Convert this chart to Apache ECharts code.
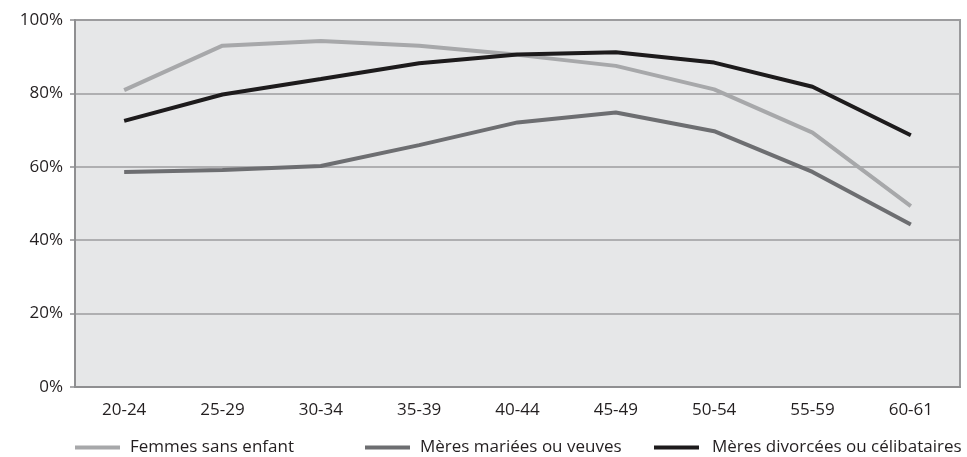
<!DOCTYPE html>
<html>
<head>
<meta charset="utf-8">
<script src="https://cdn.jsdelivr.net/npm/echarts@6/dist/echarts.min.js"></script>
<style>
  html, body { margin: 0; padding: 0; background: #fff; }
  #chart { width: 967px; height: 457px; }
</style>
</head>
<body>
<div id="chart"></div>
<script>
// Age groups on the horizontal axis
const ageGroups = ['20-24', '25-29', '30-34', '35-39', '40-44', '45-49', '50-54', '55-59', '60-61'];

// Employment rate (%) by family situation
const femmesSansEnfant = [80.9, 93.0, 94.3, 93.0, 90.5, 87.5, 81.1, 69.3, 49.3];
const meresMariees = [58.6, 59.1, 60.2, 65.9, 72.1, 74.8, 69.7, 58.6, 44.3];
const meresDivorcees = [72.5, 79.7, 83.9, 88.2, 90.6, 91.2, 88.4, 81.8, 68.6];

const seriesNames = ['Femmes sans enfant', 'Mères mariées ou veuves', 'Mères divorcées ou célibataires'];
const yTicks = [0, 20, 40, 60, 80, 100];

const colors = ['#a7a8aa', '#6d6e71', '#1d1b1c'];
const font = '"Open Sans", "DejaVu Sans", sans-serif';
const fontSize = 17;

const chart = echarts.init(document.getElementById('chart'), null, { renderer: 'canvas' });

function legendAt(name, left, textGap) {
  return {
    data: [name],
    left: left,
    top: 439,
    icon: 'rect',
    itemWidth: 45,
    itemHeight: 4,
    padding: 0,
    selectedMode: false,
    textStyle: { fontFamily: font, fontSize: fontSize, color: '#231f20', padding: [0, 0, 0, textGap] }
  };
}

chart.setOption({
  animation: false,
  color: colors,
  grid: {
    left: 75, top: 20, right: 7, bottom: 70,
    show: true,
    backgroundColor: '#e6e7e8',
    borderColor: '#9a9a9c',
    borderWidth: 2
  },
  legend: [
    legendAt(seriesNames[0], 75, 5),
    legendAt(seriesNames[1], 365, 5),
    legendAt(seriesNames[2], 654, 8)
  ],
  xAxis: {
    type: 'category',
    data: ageGroups,
    boundaryGap: true,
    axisLine: { lineStyle: { color: '#8f8f91', width: 2 } },
    axisTick: { show: false },
    axisLabel: { fontFamily: font, fontSize: fontSize, color: '#231f20', margin: 15 }
  },
  yAxis: {
    type: 'value',
    min: yTicks[0],
    max: yTicks[yTicks.length - 1],
    interval: 20,
    axisLine: { show: true, lineStyle: { color: '#8f8f91', width: 2 } },
    axisTick: { show: true, length: 5, lineStyle: { color: '#8f8f91', width: 1.5 } },
    axisLabel: { fontFamily: font, fontSize: fontSize, color: '#231f20', margin: 12, formatter: '{value}%' },
    splitLine: { lineStyle: { color: '#9d9d9f', width: 1.5 } }
  },
  series: [
    { name: seriesNames[0], type: 'line', data: femmesSansEnfant, symbol: 'none', lineStyle: { width: 4, color: colors[0] } },
    { name: seriesNames[1], type: 'line', data: meresMariees, symbol: 'none', lineStyle: { width: 4, color: colors[1] } },
    { name: seriesNames[2], type: 'line', data: meresDivorcees, symbol: 'none', lineStyle: { width: 4, color: colors[2] } }
  ]
});
</script>
</body>
</html>
